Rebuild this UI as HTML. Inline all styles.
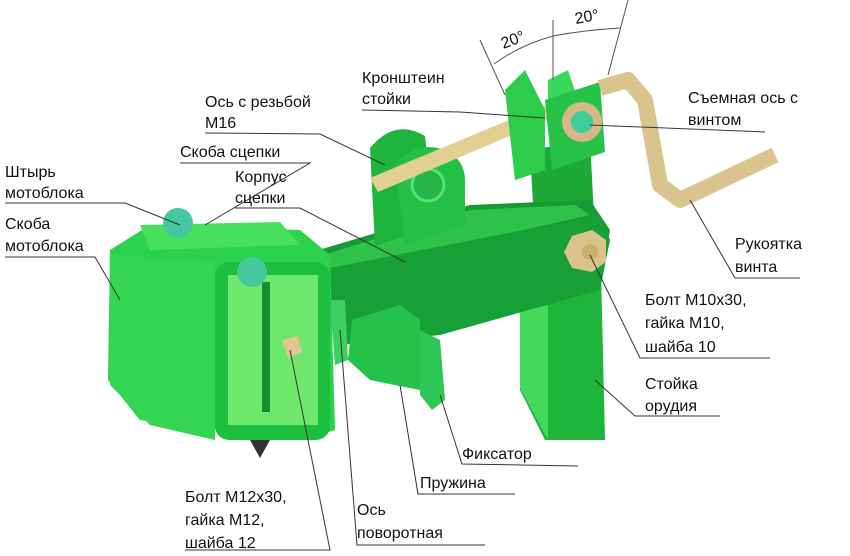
<!DOCTYPE html>
<html><head><meta charset="utf-8"><style>
html,body{margin:0;padding:0;background:#fff}
svg{display:block}
text{font-family:"Liberation Sans",sans-serif;font-size:16px;fill:#111}
</style></head><body>
<svg width="850" height="556" viewBox="0 0 850 556" xmlns="http://www.w3.org/2000/svg">
<!-- vertical post (стойка) -->
<polygon points="530,240 600,228 605,440 545,440 520,390" fill="#1fb43c"/>
<polygon points="520,290 548,300 548,440 520,388" fill="#45d85a"/>
<!-- upper bracket stand -->
<polygon points="530,150 590,140 595,235 535,240" fill="#1ea838"/>
<!-- main body bar -->
<polygon points="285,260 470,205 590,200 610,230 600,285 470,315 330,330 300,300" fill="#179a33"/>
<polygon points="300,262 470,210 575,205 590,215 480,240 320,290" fill="#2fc24a"/>
<polygon points="320,270 600,215 610,240 600,290 440,335 340,345" fill="#16a035"/>
<!-- bolt M10 -->
<polygon points="572,236 592,230 606,240 606,262 592,272 572,268 564,252" fill="#d8c48a"/>
<circle cx="590" cy="252" r="8" fill="#c8b06a"/>
<!-- lower block & fixator -->
<polygon points="352,320 400,305 420,320 420,390 370,380 348,360" fill="#24c24a"/>
<polygon points="420,330 440,340 445,400 432,410 420,395" fill="#2ec656"/>
<polygon points="330,300 345,300 348,360 335,365" fill="#3bd060"/>
<!-- hitch box -->
<polygon points="110,250 150,225 300,230 330,255 335,430 300,440 140,420 108,380" fill="#2bd24e"/>
<polygon points="140,225 280,222 300,245 150,250" fill="#47e05e"/>
<rect x="215" y="262" width="115" height="178" rx="14" fill="#1cbf3f"/>
<rect x="228" y="275" width="90" height="150" fill="#6ee86c"/>
<rect x="262" y="282" width="8" height="130" fill="#15902d"/>
<polygon points="110,255 215,262 215,440 150,425 110,385" fill="#34d552"/>
<polygon points="250,440 270,440 260,458" fill="#333"/>
<!-- nut M12 -->
<polygon points="282,340 298,336 302,352 288,358" fill="#e0c78e"/>
<!-- pins -->
<circle cx="178" cy="223" r="15" fill="#45c7a0"/>
<circle cx="252" cy="272" r="15" fill="#45c7a0"/>
<!-- upper bracket left (Скоба сцепки) -->
<path d="M370,148 q25,-30 55,-12 l10,90 l-60,20 z" fill="#1eb43e"/>
<path d="M395,165 q20,-25 50,-15 q20,10 20,30 l0,45 l-60,20 z" fill="#22c046"/>
<circle cx="428" cy="185" r="16" fill="#27b54a" stroke="#55e07a" stroke-width="3"/>
<!-- threaded axle -->
<polygon points="370,178 545,105 552,118 378,192" fill="#e2cf92"/>
<!-- upper right bracket -->
<path d="M505,90 l20,-20 l20,40 l0,60 l-30,10 z" fill="#2dcc4a"/>
<path d="M548,80 l20,-10 l10,30 l-30,10 z" fill="#39d85a"/>
<polygon points="545,100 600,82 605,152 552,170" fill="#26c24a"/>
<circle cx="582" cy="122" r="20" fill="#d4b987"/>
<circle cx="582" cy="122" r="11" fill="#3dcf9a"/>
<!-- crank handle -->
<path d="M600,88 L628,80 L645,100 L660,185 L680,200 L775,155" fill="none" stroke="#d8c48c" stroke-width="16" stroke-linejoin="round"/>
<!-- angle dims -->
<g stroke="#555" stroke-width="1" fill="none">
<line x1="480" y1="40" x2="505" y2="95"/>
<line x1="553" y1="20" x2="553" y2="80"/>
<line x1="628" y1="0" x2="608" y2="75"/>
<path d="M494,64 Q520,45 553,36"/>
<path d="M553,36 Q585,30 620,28"/>
</g>
<text x="502" y="48" transform="rotate(-20 505 45)" fill="#666">20°</text>
<text x="575" y="24" transform="rotate(-10 575 20)" fill="#666">20°</text>
<!-- leader lines -->
<g stroke="#333" stroke-width="1" fill="none">
<polyline points="362,110 460,112 545,118"/>
<polyline points="205,133 320,134 385,165"/>
<polyline points="180,163 310,163 205,225"/>
<polyline points="235,208 300,208 405,262"/>
<polyline points="5,203 125,203 180,225"/>
<polyline points="5,257 95,257 120,300"/>
<polyline points="590,125 765,132"/>
<polyline points="690,200 735,278 800,278"/>
<polyline points="590,255 640,358 770,358"/>
<polyline points="595,380 635,416 720,416"/>
<polyline points="440,395 462,464 578,466"/>
<polyline points="400,385 418,494 515,494"/>
<polyline points="340,330 357,545 485,545"/>
<polyline points="290,350 330,550 185,550"/>
</g>
<text x="362" y="83">Кронштеин</text><text x="362" y="104">стойки</text>
<text x="205" y="107">Ось с резьбой</text><text x="205" y="128">М16</text>
<text x="180" y="157">Скоба сцепки</text>
<text x="235" y="182">Корпус</text><text x="235" y="203">сцепки</text>
<text x="5" y="177">Штырь</text><text x="5" y="198">мотоблока</text>
<text x="5" y="229">Скоба</text><text x="5" y="251">мотоблока</text>
<text x="688" y="103">Съемная ось с</text><text x="688" y="125">винтом</text>
<text x="735" y="249">Рукоятка</text><text x="735" y="272">винта</text>
<text x="645" y="305">Болт М10х30,</text><text x="645" y="328">гайка М10,</text><text x="645" y="352">шайба 10</text>
<text x="645" y="389">Стойка</text><text x="645" y="411">орудия</text>
<text x="462" y="459">Фиксатор</text>
<text x="420" y="488">Пружина</text>
<text x="357" y="515">Ось</text><text x="357" y="538">поворотная</text>
<text x="185" y="502">Болт М12х30,</text><text x="185" y="525">гайка М12,</text><text x="185" y="548">шайба 12</text>
</svg>
</body></html>
